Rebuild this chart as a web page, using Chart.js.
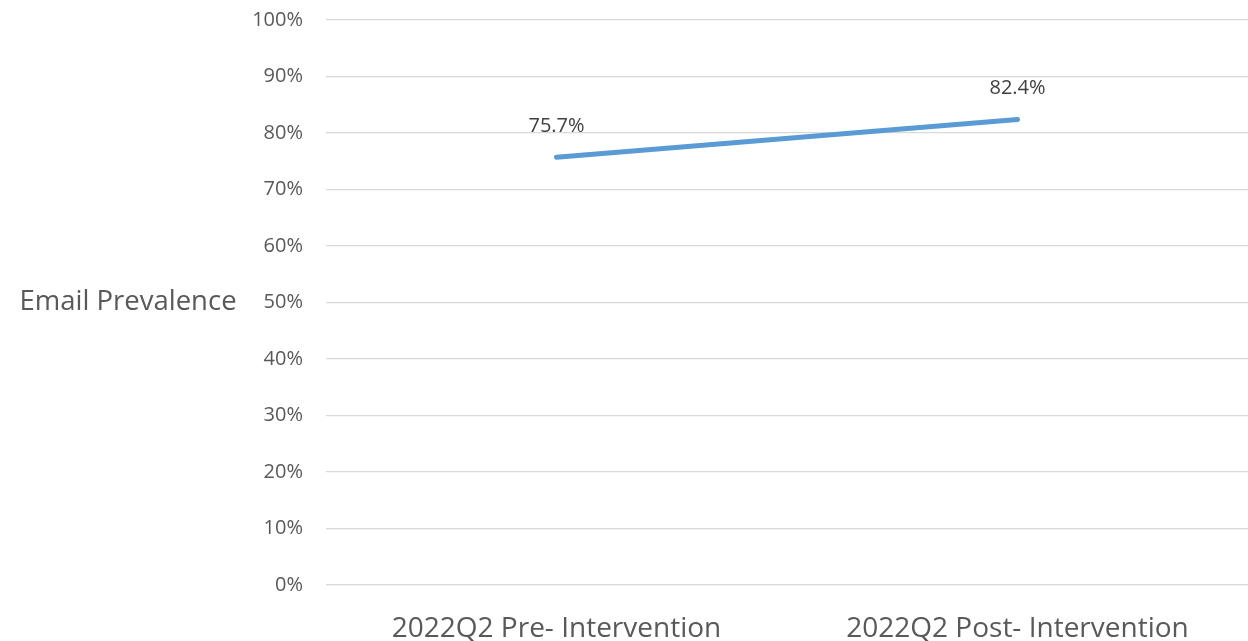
<!DOCTYPE html>
<html>
<head>
<meta charset="utf-8">
<script src="https://cdn.jsdelivr.net/npm/chart.js@4/dist/chart.umd.min.js"></script>
<style>
  html, body { margin: 0; padding: 0; background: #fff; }
  #wrap { width: 1248px; height: 641px; position: relative; }
</style>
</head>
<body>
<div id="wrap"><canvas id="lineChart"></canvas></div>
<script>
// chart data
var categories = ["2022Q2 Pre- Intervention", "2022Q2 Post- Intervention"];
var prevalence = [75.7, 82.4];
var yTitle = "Email Prevalence";

var textColor = "#595959";
var fontName = "'Open Sans', Calibri, sans-serif";

// draws value labels above each point
var pointLabels = {
  id: 'pointLabels',
  afterDatasetsDraw(chart) {
    var ctx = chart.ctx;
    var meta = chart.getDatasetMeta(0);
    ctx.save();
    ctx.font = "20px " + fontName;
    ctx.fillStyle = "#404040";
    ctx.textAlign = "center";
    ctx.textBaseline = "middle";
    meta.data.forEach(function (pt, i) {
      ctx.fillText(prevalence[i].toFixed(1) + "%", pt.x, pt.y - 31);
    });
    ctx.restore();
  }
};

// horizontal y axis title on the left
var sideTitle = {
  id: 'sideTitle',
  afterDraw(chart) {
    var ctx = chart.ctx;
    var area = chart.chartArea;
    ctx.save();
    ctx.font = "27.5px " + fontName;
    ctx.fillStyle = textColor;
    ctx.textAlign = "center";
    ctx.textBaseline = "middle";
    ctx.fillText(yTitle, 128, (area.top + area.bottom) / 2);
    ctx.restore();
  }
};

var ctx = document.getElementById("lineChart").getContext('2d');
var lineChart = new Chart(ctx, {
  type: 'line',
  data: {
    labels: categories,
    datasets: [{
      label: yTitle,
      data: prevalence,
      borderColor: "#5B9BD5",
      borderWidth: 5,
      borderCapStyle: 'round',
      pointRadius: 0,
      tension: 0
    }]
  },
  options: {
    responsive: true,
    maintainAspectRatio: false,
    animation: false,
    layout: { padding: { top: 20, right: 0, left: 0, bottom: 0 } },
    plugins: {
      legend: { display: false },
      tooltip: { enabled: false }
    },
    scales: {
      x: {
        offset: true,
        grid: { display: false, drawTicks: false },
        border: { display: false },
        ticks: {
          color: textColor,
          font: { family: fontName, size: 28 },
          padding: 27,
          maxRotation: 0
        },
        afterFit(scale) { scale.height = 56; }
      },
      y: {
        min: 0,
        max: 100,
        grid: { color: "#d9d9d9", lineWidth: 1.3, drawTicks: false },
        border: { display: false },
        ticks: {
          stepSize: 10,
          color: textColor,
          padding: 23,
          font: { family: fontName, size: 20 },
          callback: function (v) { return v + "%"; }
        },
        afterFit(scale) {
          scale.width = 326;
          scale.paddingTop = 0;
          scale.paddingBottom = 0;
        }
      }
    }
  },
  plugins: [pointLabels, sideTitle]
});
</script>
</body>
</html>
